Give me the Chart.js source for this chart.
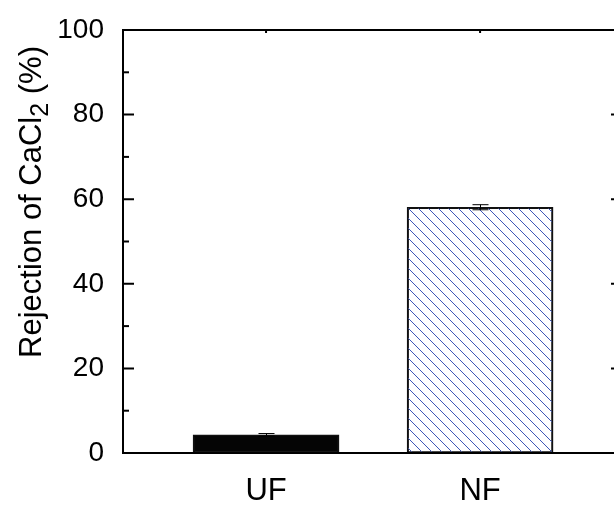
<!DOCTYPE html>
<html>
<head>
<meta charset="utf-8">
<script src="https://cdn.jsdelivr.net/npm/chart.js@4/dist/chart.umd.min.js"></script>
<style>
  html, body { margin: 0; padding: 0; background: #fff; }
  #wrap { width: 614px; height: 506px; }
</style>
</head>
<body>
<div id="wrap"><canvas id="chart" width="614" height="506"></canvas></div>
<script>
// Data
const categories = ['UF', 'NF'];
const rejection = [4.3, 58.1];
const rejectionErr = [0.3, 0.6];
const yTicks = [0, 20, 40, 60, 80, 100];

const FONT = "'Liberation Sans', Arial, sans-serif";

// Diagonal hatch for the NF bar
function makeHatch() {
  const c = document.createElement('canvas');
  c.width = 10; c.height = 10;
  const g = c.getContext('2d');
  g.strokeStyle = '#3f57b8';
  g.lineWidth = 1;
  g.beginPath();
  g.moveTo(-1, -1); g.lineTo(11, 11);
  g.moveTo(-1, 9); g.lineTo(1, 11);
  g.moveTo(9, -1); g.lineTo(11, 1);
  g.stroke();
  return g.createPattern(c, 'repeat');
}

// Frame, inward ticks, error bars and y title
const decorations = {
  id: 'decorations',
  afterDatasetsDraw(chart) {
    const ctx = chart.ctx;
    const a = chart.chartArea;
    const x = chart.scales.x, y = chart.scales.y;
    ctx.save();

    // error bars
    ctx.strokeStyle = '#000';
    ctx.lineWidth = 1;
    rejection.forEach((v, i) => {
      const px = Math.round(x.getPixelForValue(i + 1)) + 0.5;
      const hi = y.getPixelForValue(v + rejectionErr[i]);
      const lo = y.getPixelForValue(v - rejectionErr[i]);
      ctx.beginPath();
      ctx.moveTo(px, hi); ctx.lineTo(px, lo);
      ctx.moveTo(px - 8, hi); ctx.lineTo(px + 8, hi);
      ctx.moveTo(px - 8, lo); ctx.lineTo(px + 8, lo);
      ctx.stroke();
    });

    // frame (right axis lies just past the canvas edge)
    ctx.lineWidth = 2;
    ctx.beginPath();
    ctx.moveTo(a.left + 1, a.bottom); ctx.lineTo(a.left + 1, a.top);
    ctx.lineTo(a.right + 1, a.top);
    ctx.moveTo(a.left, a.bottom); ctx.lineTo(a.right + 1, a.bottom);
    ctx.stroke();

    // y ticks pointing in; only stubs of the right ones show
    for (let v = 0; v <= 100; v += 10) {
      const py = y.getPixelForValue(v);
      const len = v % 20 === 0 ? 12 : 7;
      ctx.beginPath();
      ctx.moveTo(a.left, py); ctx.lineTo(a.left + len, py);
      if (v % 20 === 0) { ctx.moveTo(a.right + 1, py); ctx.lineTo(a.right - 2, py); }
      ctx.stroke();
    }
    // top ticks at categories
    categories.forEach((c, i) => {
      const px = x.getPixelForValue(i + 1);
      ctx.beginPath();
      ctx.moveTo(px, a.top); ctx.lineTo(px, a.top + 3);
      ctx.stroke();
    });

    // y title with subscript
    ctx.fillStyle = '#000';
    ctx.textBaseline = 'alphabetic';
    const main = 'Rejection of CaCl';
    const sub = '2';
    const tail = ' (%)';
    ctx.font = '31px ' + FONT;
    const w1 = ctx.measureText(main).width;
    const w3 = ctx.measureText(tail).width;
    ctx.font = '25px ' + FONT;
    const w2 = ctx.measureText(sub).width;
    const total = w1 + w2 + w3;
    ctx.translate(41, 202);
    ctx.rotate(-Math.PI / 2);
    let u = -total / 2;
    ctx.font = '31px ' + FONT;
    ctx.fillText(main, u, 0); u += w1;
    ctx.font = '25px ' + FONT;
    ctx.fillText(sub, u, 7); u += w2;
    ctx.font = '31px ' + FONT;
    ctx.fillText(tail, u, 0);
    ctx.restore();
  }
};

new Chart(document.getElementById('chart'), {
  type: 'bar',
  data: {
    datasets: [{
      data: rejection.map((v, i) => ({ x: i + 1, y: v })),
      backgroundColor: ['#050505', makeHatch()],
      borderColor: '#111',
      borderWidth: 1.5,
      borderSkipped: false,
      barThickness: 146
    }]
  },
  options: {
    responsive: false,
    animation: false,
    layout: { padding: { top: 30, right: 1, bottom: 0, left: 0 } },
    plugins: { legend: { display: false }, tooltip: { enabled: false } },
    scales: {
      x: {
        type: 'linear',
        offset: false,
        min: 0.327,
        max: 2.621,
        grid: { display: false, offset: false },
        border: { display: false },
        afterFit: s => { s.height = 53; },
        afterBuildTicks: s => { s.ticks = categories.map((c, i) => ({ value: i + 1 })); },
        ticks: {
          color: '#000',
          font: { family: FONT, size: 31 },
          padding: 12,
          callback: v => categories[v - 1]
        }
      },
      y: {
        min: 0,
        max: 100,
        grid: { display: false },
        border: { display: false },
        afterFit: s => { s.width = 122; },
        afterBuildTicks: s => { s.ticks = yTicks.map(v => ({ value: v })); },
        ticks: {
          color: '#000',
          font: { family: FONT, size: 28 },
          padding: 10
        }
      }
    }
  },
  plugins: [decorations]
});
</script>
</body>
</html>
